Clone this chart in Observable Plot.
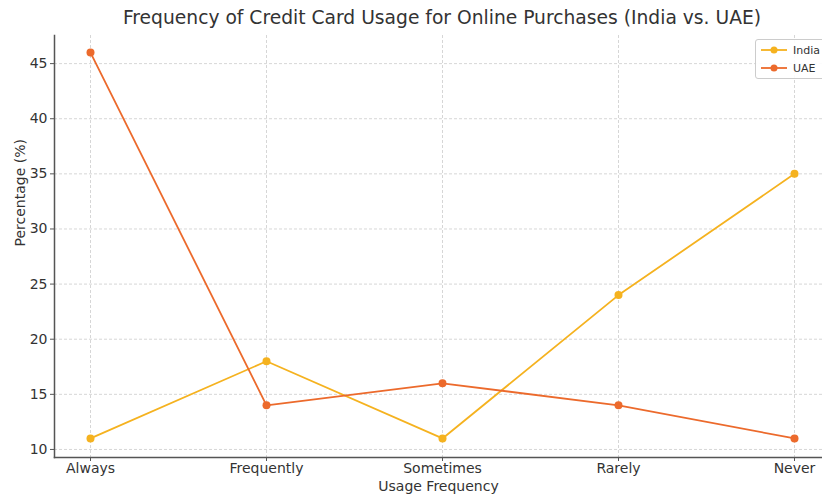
<!DOCTYPE html>
<html>
<head>
<meta charset="utf-8">
<script src="https://cdn.jsdelivr.net/npm/d3@7"></script>
<script src="https://cdn.jsdelivr.net/npm/@observablehq/plot@0.6"></script>
<style>
  html, body { margin: 0; padding: 0; background: #fff; }
  body { width: 822px; height: 495px; overflow: hidden; position: relative; font-family: "DejaVu Sans", sans-serif; }
  #title { position: absolute; left: 54px; width: 776px; top: 7px; text-align: center; font-size: 18.7px; color: #333; white-space: nowrap; }
  #chart { position: absolute; left: 0; top: 0; }
  #legend { position: absolute; left: 755px; top: 39px; width: 80px; height: 38px; border: 1px solid #ccc; border-radius: 3px; background: rgba(255,255,255,0.9); font-size: 11px; color: #333; }
  .item { position: absolute; left: 5px; height: 14px; display: flex; align-items: center; }
  .item svg { margin-right: 6px; }
</style>
</head>
<body>
<div id="chart"></div>
<div id="title">Frequency of Credit Card Usage for Online Purchases (India vs. UAE)</div>
<div id="legend"></div>
<script>
const categories = ["Always", "Frequently", "Sometimes", "Rarely", "Never"];
const seriesNames = ["India", "UAE"];
const indiaValues = [11, 18, 11, 24, 35];
const uaeValues = [46, 14, 16, 14, 11];
const colors = ["#f5b21f", "#ec6a2c"];
const yTicks = [10, 15, 20, 25, 30, 35, 40, 45];

const rows = [];
categories.forEach((c, i) => {
  rows.push({category: c, series: "India", value: indiaValues[i]});
  rows.push({category: c, series: "UAE", value: uaeValues[i]});
});

const chart = Plot.plot({
  width: 822,
  height: 495,
  marginLeft: 54,
  marginRight: 0,
  marginTop: 35,
  marginBottom: 38,
  style: {fontFamily: "DejaVu Sans, sans-serif", fontSize: "13px", color: "#333", background: "#fff"},
  x: {type: "point", domain: categories, range: [89, 795], padding: 0, label: null},
  y: {domain: [9.27, 47.55], label: null},
  color: {domain: seriesNames, range: colors},
  marks: [
    Plot.gridY(yTicks, {stroke: "#ccc", strokeOpacity: 1, strokeDasharray: "3,2", strokeWidth: 0.8}),
    Plot.gridX(categories, {stroke: "#ccc", strokeOpacity: 1, strokeDasharray: "3,2", strokeWidth: 0.8}),
    Plot.frame({anchor: "left", stroke: "#555", strokeWidth: 1.5}),
    Plot.frame({anchor: "bottom", stroke: "#555", strokeWidth: 1.5}),
    Plot.axisY(yTicks, {tickSize: 4, tickPadding: 3, stroke: "#555", fontSize: 14, fill: "#333", label: null}),
    Plot.axisX(categories, {tickSize: 4, tickPadding: 2, stroke: "#555", fontSize: 14, fill: "#333", label: null}),
    Plot.text(["Percentage (%)"], {frameAnchor: "left", dx: -34, rotate: -90, fontSize: 14, fill: "#333"}),
    Plot.text(["Usage Frequency"], {frameAnchor: "bottom", dy: 33, fontSize: 14, fill: "#333"}),
    Plot.line(rows, {x: "category", y: "value", stroke: "series", strokeWidth: 1.8}),
    Plot.dot(rows, {x: "category", y: "value", fill: "series", r: 4})
  ]
});
document.getElementById("chart").appendChild(chart);

const legend = document.getElementById("legend");
seriesNames.forEach((name, i) => {
  const d = document.createElement("div");
  d.className = "item";
  d.style.top = (3 + i * 18) + "px";
  d.innerHTML = `<svg width="26" height="10"><line x1="0" y1="5" x2="26" y2="5" stroke="${colors[i]}" stroke-width="1.8"/><circle cx="13" cy="5" r="3.5" fill="${colors[i]}"/></svg><span>${name}</span>`;
  legend.appendChild(d);
});
</script>
</body>
</html>
